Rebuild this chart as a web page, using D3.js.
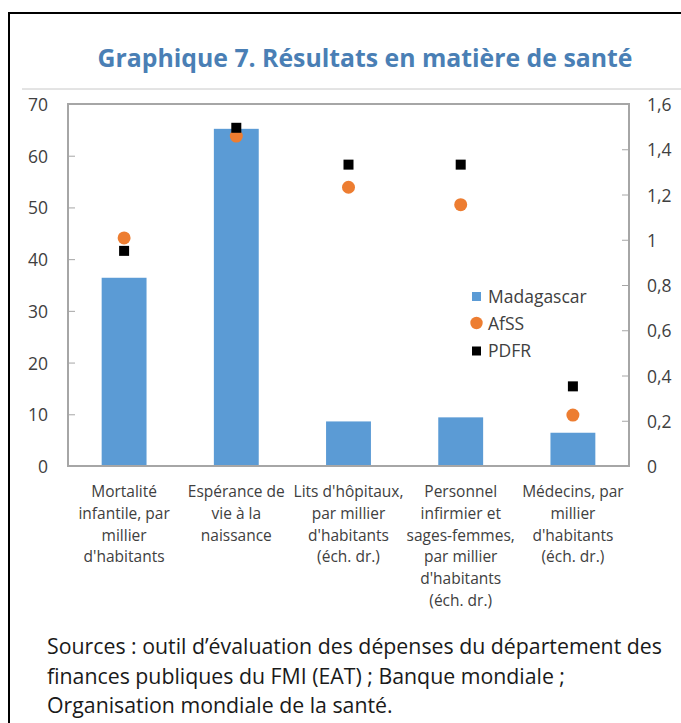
<!DOCTYPE html>
<html>
<head>
<meta charset="utf-8">
<script src="https://cdnjs.cloudflare.com/ajax/libs/d3/7.8.5/d3.min.js"></script>
<style>
  body { margin: 0; background: #fff; }
  svg text { font-family: "Open Sans", "Noto Sans", sans-serif; }
</style>
</head>
<body>
<svg id="chart" width="681" height="723"></svg>
<script>
// categories (each label split in lines as in the source)
var categories = [
  ["Mortalité", "infantile, par", "millier", "d'habitants"],
  ["Espérance de", "vie à la", "naissance"],
  ["Lits d'hôpitaux,", "par millier", "d'habitants", "(éch. dr.)"],
  ["Personnel", "infirmier et", "sages-femmes,", "par millier", "d'habitants", "(éch. dr.)"],
  ["Médecins, par", "millier", "d'habitants", "(éch. dr.)"]
];
// which axis each category uses
var axisSide = ["left", "left", "right", "right", "right"];

var madagascar = [36.4, 65.2, 0.197, 0.215, 0.147];
var afss       = [44.1, 63.8, 1.232, 1.155, 0.225];
var pdfr       = [41.6, 65.4, 1.332, 1.332, 0.352];

var leftTicks  = [0, 10, 20, 30, 40, 50, 60, 70];
var rightTicks = [0, 0.2, 0.4, 0.6, 0.8, 1, 1.2, 1.4, 1.6];

var seriesNames = ["Madagascar", "AfSS", "PDFR"];

var sources = [
  "Sources : outil d’évaluation des dépenses du département des",
  "finances publiques du FMI (EAT) ; Banque mondiale ;",
  "Organisation mondiale de la santé."
];

var svg = d3.select("#chart");

// outer frame (top + left black lines)
svg.append("line").attr("x1", 8).attr("y1", 13).attr("x2", 681).attr("y2", 13)
   .attr("stroke", "#000").attr("stroke-width", 2);
svg.append("line").attr("x1", 9).attr("y1", 12).attr("x2", 9).attr("y2", 723)
   .attr("stroke", "#000").attr("stroke-width", 2);

// title
svg.append("text")
   .attr("x", 365).attr("y", 67)
   .attr("text-anchor", "middle")
   .attr("fill", "#4a7fb5")
   .attr("font-size", 24.8).attr("font-weight", 700)
   .text("Graphique 7. Résultats en matière de santé");

svg.append("line").attr("x1", 22).attr("y1", 89).attr("x2", 681).attr("y2", 89)
   .attr("stroke", "#c8c8c8").attr("stroke-width", 1);

var plotL = 68, plotR = 629, plotT = 104, plotB = 466;

var x = d3.scaleBand().domain(d3.range(categories.length)).range([plotL, plotR]).padding(0);
var yL = d3.scaleLinear().domain([0, 70]).range([plotB, plotT]);
var yR = d3.scaleLinear().domain([0, 1.6]).range([plotB, plotT]);
function yFor(i) { return axisSide[i] == "left" ? yL : yR; }

var barW = x.bandwidth() * 0.4;

// bars
svg.selectAll("rect.bar")
   .data(madagascar)
   .enter()
   .append("rect")
   .attr("class", "bar")
   .attr("fill", "#5b9bd5")
   .attr("x", function(d, i) { return x(i) + (x.bandwidth() - barW) / 2; })
   .attr("width", barW)
   .attr("y", function(d, i) { return yFor(i)(d); })
   .attr("height", function(d, i) { return plotB - yFor(i)(d); });

// plot frame
svg.append("rect")
   .attr("x", plotL).attr("y", plotT)
   .attr("width", plotR - plotL).attr("height", plotB - plotT)
   .attr("fill", "none").attr("stroke", "#a6a6a6").attr("stroke-width", 2);

// axes (ticks inside the plot)
var axL = svg.append("g").attr("transform", "translate(" + plotL + ",0)")
   .call(d3.axisRight(yL).tickValues(leftTicks).tickSize(7).tickFormat(""));
var axR = svg.append("g").attr("transform", "translate(" + plotR + ",0)")
   .call(d3.axisLeft(yR).tickValues(rightTicks).tickSize(7).tickFormat(""));
[axL, axR].forEach(function(a) {
  a.select(".domain").remove();
  a.selectAll("line").attr("stroke", "#a6a6a6").attr("stroke-width", 1);
});

svg.selectAll("text.yl")
   .data(leftTicks)
   .enter().append("text")
   .attr("class", "yl")
   .attr("x", 48).attr("y", function(d) { return yL(d) + 7; })
   .attr("text-anchor", "end")
   .attr("font-size", 17.5).attr("fill", "#404040")
   .text(function(d) { return d; });

svg.selectAll("text.yr")
   .data(rightTicks)
   .enter().append("text")
   .attr("class", "yr")
   .attr("x", 647).attr("y", function(d) { return yR(d) + 7; })
   .attr("font-size", 17.5).attr("fill", "#404040")
   .text(function(d) { return String(d).replace(".", ","); });

// AfSS circles
svg.selectAll("circle.afss")
   .data(afss)
   .enter().append("circle")
   .attr("class", "afss")
   .attr("fill", "#ed7d31")
   .attr("cx", function(d, i) { return x(i) + x.bandwidth() / 2; })
   .attr("cy", function(d, i) { return yFor(i)(d); })
   .attr("r", 6.5);

// PDFR squares
svg.selectAll("rect.pdfr")
   .data(pdfr)
   .enter().append("rect")
   .attr("class", "pdfr")
   .attr("fill", "#000")
   .attr("x", function(d, i) { return x(i) + x.bandwidth() / 2 - 5; })
   .attr("y", function(d, i) { return yFor(i)(d) - 5; })
   .attr("width", 10).attr("height", 10);

// category labels
var cat = svg.selectAll("text.cat")
   .data(categories)
   .enter().append("text")
   .attr("class", "cat")
   .attr("text-anchor", "middle")
   .attr("font-size", 15.5).attr("fill", "#404040");
cat.each(function(lines, i) {
  var t = d3.select(this);
  lines.forEach(function(l, j) {
    t.append("tspan")
     .attr("x", x(i) + x.bandwidth() / 2)
     .attr("y", 497 + j * 21.8)
     .text(l);
  });
});

// legend
var lg = svg.append("g").attr("transform", "translate(472,0)");
lg.append("rect").attr("x", 0).attr("y", 292).attr("width", 9).attr("height", 9).attr("fill", "#5b9bd5");
lg.append("circle").attr("cx", 4.5).attr("cy", 323).attr("r", 6.2).attr("fill", "#ed7d31");
lg.append("rect").attr("x", 0).attr("y", 346.5).attr("width", 9).attr("height", 9).attr("fill", "#000");
lg.selectAll("text")
  .data(seriesNames)
  .enter().append("text")
  .attr("x", 16)
  .attr("y", function(d, i) { return 303 + i * 27; })
  .attr("font-size", 17.5).attr("fill", "#404040")
  .text(function(d) { return d; });

// sources
svg.selectAll("text.src")
   .data(sources)
   .enter().append("text")
   .attr("class", "src")
   .attr("x", 47)
   .attr("y", function(d, i) { return 654 + i * 29.5; })
   .attr("font-size", 21.3).attr("fill", "#1a1a1a")
   .text(function(d) { return d; });
</script>
</body>
</html>
